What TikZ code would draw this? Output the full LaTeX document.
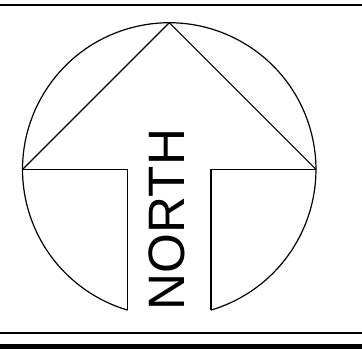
\documentclass[tikz,border=0pt]{standalone}
\usepackage{fontspec}
\setmainfont{Liberation Sans}
\begin{document}
\begin{tikzpicture}[x=1pt,y=1pt,
  fig/.style={line width=1.2pt, line join=miter},
  rule/.style={line width=2pt}]
\useasboundingbox (0,0) rectangle (362,349);
% key points
\coordinate (C) at (169.3,179.6);
\coordinate (apex) at (169.3,326.3);
\coordinate (L) at (22.6,179.6);
\coordinate (R) at (316.0,179.6);
\coordinate (sl) at (127.7,179.6);
\coordinate (sr) at (210.9,179.6);
\coordinate (slb) at (127.7,38.9);
\coordinate (srb) at (210.9,38.9);
% circle without the bottom segment between the stems
\draw[fig] (srb) arc[start angle=-73.5, end angle=253.5, radius=146.7];
% arrow head
\draw[fig] (L) -- (apex) -- (R);
% arrow stem
\draw[fig] (L) -- (sl) -- (slb);
\draw[fig] (R) -- (sr) -- (srb);
% label
\node[rotate=90, inner sep=0pt, font=\fontsize{51.2}{60}\selectfont] (lbl) at (166.7,129.5) {NORTH};
% rules
\coordinate (t1) at (0,343.5);
\coordinate (t2) at (362,343.5);
\draw[rule] (t1) -- (t2);
\coordinate (b1) at (0,15.7);
\coordinate (b2) at (362,15.7);
\draw[rule] (b1) -- (b2);
\fill (0,0) rectangle (362,4.7);
\end{tikzpicture}
\end{document}
